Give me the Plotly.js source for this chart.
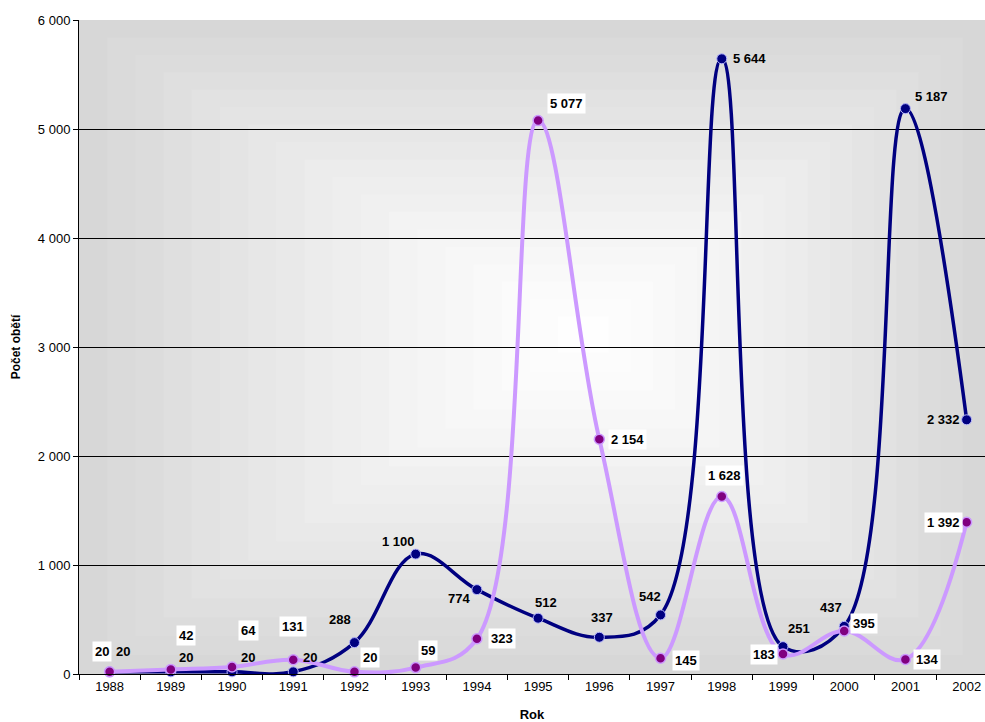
<!DOCTYPE html>
<html>
<head>
<meta charset="utf-8">
<script src="https://cdn.plot.ly/plotly-3.0.1.min.js"></script>
<style>
  html, body { margin: 0; padding: 0; background: #ffffff; }
  #chart { width: 985px; height: 722px; }
</style>
</head>
<body>
<div id="chart"></div>
<script>
// ---- data ----
var years = ['1988','1989','1990','1991','1992','1993','1994','1995','1996','1997','1998','1999','2000','2001','2002'];
var seriesNavy = [20, 20, 20, 20, 288, 1100, 774, 512, 337, 542, 5644, 251, 437, 5187, 2332];
var seriesPurple = [20, 42, 64, 131, 20, 59, 323, 5077, 2154, 145, 1628, 183, 395, 134, 1392];
var yTickVals = [0, 1000, 2000, 3000, 4000, 5000, 6000];
var yTickText = ['0', '1 000', '2 000', '3 000', '4 000', '5 000', '6 000'];

// ---- label offsets (pixels: right, down) ----
var navyOff = [[13,-20],[15,-14],[16,-14],[17,-14],[-14,-23],[-17,-13],[-18,9],[8,-16],[3,-20],[-11,-18],[28,0],[16,-18],[-13,-19],[26,-12],[-23,0]];
var purpleOff = [[-8,-20],[15,-34],[16,-37],[0,-33],[16,-14],[12,-17],[25,0],[28,-17],[28,0],[25,2],[3,-21],[-19,0],[20,-7],[22,0],[-23,0]];

function fmt(v) {
  return String(v).replace(/\B(?=(\d{3})+(?!\d))/g, ' ');
}

var FONT = 'Liberation Sans, Arial, sans-serif';

var traces = [
  {
    x: years, y: seriesNavy, type: 'scatter', mode: 'lines+markers',
    line: { color: '#000080', width: 3.5, shape: 'spline', smoothing: 1.1 },
    marker: { color: '#000080', size: 10, line: { color: '#b8b8ff', width: 1 } },
    hoverinfo: 'skip', cliponaxis: false
  },
  {
    x: years, y: seriesPurple, type: 'scatter', mode: 'lines+markers',
    line: { color: '#cc99ff', width: 4, shape: 'spline', smoothing: 1.1 },
    marker: { color: '#800080', size: 10, line: { color: '#cc99ff', width: 1.5 } },
    hoverinfo: 'skip', cliponaxis: false
  }
];

var annotations = [];
years.forEach(function (yr, i) {
  annotations.push({
    x: i, y: seriesNavy[i], xref: 'x', yref: 'y', text: fmt(seriesNavy[i]),
    showarrow: false, xshift: navyOff[i][0], yshift: -navyOff[i][1],
    font: { family: FONT, size: 13, color: '#000000', weight: 'bold' },
    borderpad: 2
  });
  annotations.push({
    x: i, y: seriesPurple[i], xref: 'x', yref: 'y', text: fmt(seriesPurple[i]),
    showarrow: false, xshift: purpleOff[i][0], yshift: -purpleOff[i][1],
    font: { family: FONT, size: 13, color: '#000000', weight: 'bold' },
    bgcolor: '#ffffff', borderpad: 2
  });
});

// rectangular "from centre" gradient background
var shapes = [];
var N = 18, cx = 0.56, cy = 0.52;
function lerp(a, b, t) { return Math.round(a + (b - a) * t); }
for (var k = N; k >= 1; k--) {
  var t = k / N;
  var g = lerp(255, 215, Math.pow(t, 1.25));
  shapes.push({
    type: 'rect', xref: 'paper', yref: 'paper', layer: 'below',
    x0: cx - t * cx, x1: cx + t * (1 - cx),
    y0: cy - t * cy, y1: cy + t * (1 - cy),
    fillcolor: 'rgb(' + g + ',' + g + ',' + g + ')', line: { width: 0 }
  });
}

var layout = {
  width: 985, height: 722,
  margin: { l: 79, r: 0, t: 20, b: 48 },
  paper_bgcolor: '#ffffff',
  plot_bgcolor: 'rgba(0,0,0,0)',
  showlegend: false,
  separators: ', ',
  font: { family: FONT, size: 13, color: '#000000' },
  xaxis: {
    type: 'category', range: [-0.5, 14.3],
    tickson: 'boundaries', ticks: 'outside', ticklen: 5, tickcolor: '#000000',
    showgrid: false, zeroline: false,
    showline: true, linecolor: '#000000', linewidth: 1,
    tickfont: { family: FONT, size: 13, color: '#000000' },
    title: { text: 'Rok', font: { family: FONT, size: 13, weight: 'bold' }, standoff: 18 },
    fixedrange: true
  },
  yaxis: {
    range: [0, 6000], tickvals: yTickVals, ticktext: yTickText,
    ticks: 'outside', ticklen: 5, tickcolor: '#000000',
    showgrid: true, gridcolor: '#000000', gridwidth: 1,
    zeroline: false, showline: true, linecolor: '#000000', linewidth: 1,
    tickfont: { family: FONT, size: 13, color: '#000000' },
    title: { text: 'Počet obětí', font: { family: FONT, size: 12, weight: 'bold' }, standoff: 14 },
    fixedrange: true
  },
  shapes: shapes,
  annotations: annotations
};

Plotly.newPlot('chart', traces, layout, { displayModeBar: false, staticPlot: true });
</script>
</body>
</html>
